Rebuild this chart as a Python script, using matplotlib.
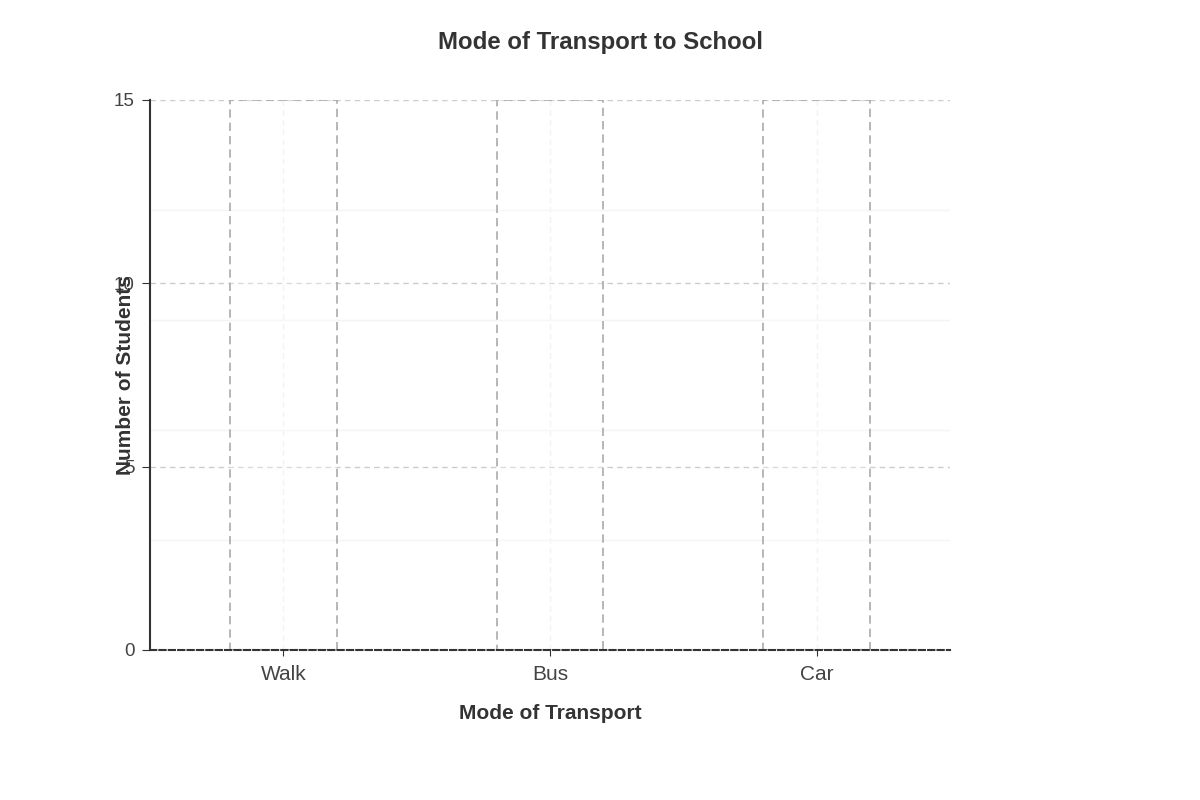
import matplotlib
matplotlib.use("Agg")
import matplotlib.pyplot as plt
from matplotlib.ticker import MultipleLocator

categories = ["Walk", "Bus", "Car"]
students = [15, 15, 15]
y_ticks = [0, 5, 10, 15]

plt.rcParams['font.family'] = ['Liberation Sans', 'DejaVu Sans']

fig = plt.figure(figsize=(12, 8), dpi=100)
ax = fig.add_axes([150/1200, 150/800, 800/1200, 550/800])

x = list(range(len(categories)))
ax.bar(x, students, width=0.4, facecolor=(1, 1, 1, 0.3), edgecolor="#aaaaaa",
       linestyle=(0, (5, 3)), linewidth=1.2, zorder=2)

ax.set_xlim(-0.5, 2.5)
ax.set_ylim(0, 15)
ax.set_yticks(y_ticks)
ax.yaxis.set_minor_locator(MultipleLocator(3))
ax.set_xticks(x)
ax.set_xticklabels(categories)

ax.grid(axis="y", which="major", color="#cccccc", linestyle=(0, (4, 3)), linewidth=1, zorder=0)
ax.grid(axis="y", which="minor", color="#f4f4f4", linestyle="-", linewidth=1, zorder=0)
ax.grid(axis="x", which="major", color="#eeeeee", linestyle=(0, (4, 3)), linewidth=1, zorder=0)

for s in ["top", "right"]:
    ax.spines[s].set_visible(False)
ax.spines["left"].set_color("#333333")
ax.spines["left"].set_linewidth(1.5)
ax.spines["bottom"].set_color("#333333")
ax.spines["bottom"].set_linewidth(1.5)
ax.spines["bottom"].set_linestyle((0, (3, 1.5)))
ax.spines["bottom"].set_zorder(5)

ax.tick_params(axis="y", which="major", length=6, color="#333333", labelsize=13.5, labelcolor="#444444", pad=5)
ax.tick_params(axis="y", which="minor", length=0)
ax.tick_params(axis="x", length=4, color="#333333", labelsize=15, labelcolor="#444444", pad=7)

fig.suptitle("Mode of Transport to School", x=0.5, y=1 - 43/800, va="center",
             fontsize=17.3, fontweight="bold", color="#333333")
ax.set_xlabel("Mode of Transport", fontsize=15, fontweight="bold", color="#333333", labelpad=14)
ax.set_ylabel("Number of Students", fontsize=15, fontweight="bold", color="#333333")
ax.yaxis.set_label_coords(-0.019, 0.5)

fig.savefig("out.png", dpi=100, facecolor="white")
